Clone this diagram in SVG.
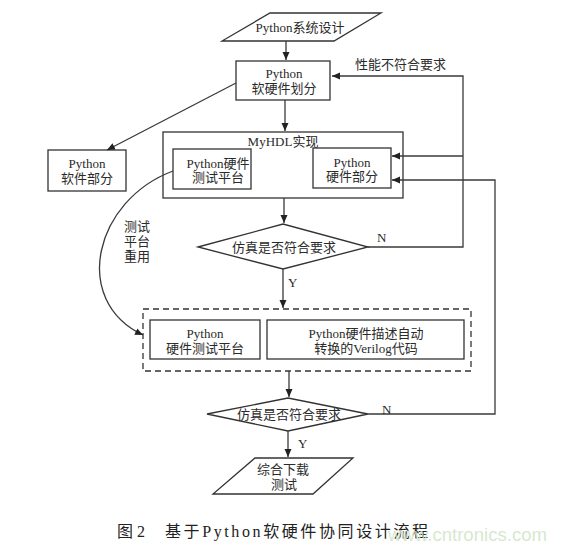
<svg xmlns="http://www.w3.org/2000/svg" width="566" height="553" viewBox="0 0 566 553">
<style>
.s{fill:#fff;stroke:#333;stroke-width:1.3}
.c{fill:none;stroke:#3a3a3a;stroke-width:1.3}
.t{font-family:"Liberation Serif","Noto Sans CJK SC",serif;font-size:13px;fill:#2a2a2a;text-anchor:middle;dominant-baseline:central}
.l{font-family:"Liberation Serif","Noto Sans CJK SC",serif;font-size:13px;fill:#2a2a2a;dominant-baseline:central}
</style>
<defs>
<marker id="a" markerUnits="userSpaceOnUse" markerWidth="10" markerHeight="8" refX="8" refY="4" orient="auto">
<path d="M0,0.5 L8,4 L0,7.5 Z" fill="#222"/>
</marker>
</defs>
<rect width="566" height="553" fill="#fff"/>
<g id="start">
<polygon class="s" points="270,13 381,13 334,41 222,41"/>
<text class="t" x="300" y="27">Python系统设计</text>
</g>
<g id="partition">
<rect class="s" x="236" y="61" width="94" height="39"/>
<text class="t" x="284" y="73">Python</text>
<text class="t" x="284" y="88">软硬件划分</text>
</g>
<g id="software">
<rect class="s" x="48" y="150" width="78" height="41"/>
<text class="t" x="87" y="163">Python</text>
<text class="t" x="87" y="178">软件部分</text>
</g>
<g id="myhdl">
<rect class="s" x="163" y="132" width="240" height="66"/>
<text class="t" x="283" y="141">MyHDL实现</text>
</g>
<g id="testbench">
<rect class="s" x="173" y="149" width="78" height="40"/>
<text class="t" x="218" y="163">Python硬件</text>
<text class="t" x="218" y="177">测试平台</text>
</g>
<g id="hardware">
<rect class="s" x="313" y="148" width="78" height="40"/>
<text class="t" x="352" y="162">Python</text>
<text class="t" x="352" y="176">硬件部分</text>
</g>
<g id="decision1">
<polygon class="s" points="198,247 283,224 368,247 283,269"/>
<text class="t" x="284" y="247">仿真是否符合要求</text>
</g>
<g id="verilog-group">
<rect x="143" y="309" width="328" height="62" fill="none" stroke="#333" stroke-width="1.3" stroke-dasharray="6,4"/>
</g>
<g id="hw-testbench">
<rect class="s" x="150" y="320" width="110" height="39"/>
<text class="t" x="205" y="333">Python</text>
<text class="t" x="205" y="348">硬件测试平台</text>
</g>
<g id="verilog">
<rect class="s" x="267" y="320" width="197" height="39"/>
<text class="t" x="366" y="333">Python硬件描述自动</text>
<text class="t" x="366" y="348">转换的Verilog代码</text>
</g>
<g id="decision2">
<polygon class="s" points="207,414 288,398 368,414 288,431"/>
<text class="t" x="289" y="414">仿真是否符合要求</text>
</g>
<g id="end">
<polygon class="s" points="255,458 353,458 313,494 213,494"/>
<text class="t" x="283" y="469">综合下载</text>
<text class="t" x="284" y="484">测试</text>
</g>
<g id="connectors">
<line class="c" x1="286" y1="41" x2="286" y2="60" marker-end="url(#a)"/>
<line class="c" x1="285" y1="100" x2="285" y2="131" marker-end="url(#a)"/>
<line class="c" x1="236" y1="83" x2="107" y2="150" marker-end="url(#a)"/>
<line class="c" x1="284" y1="198" x2="284" y2="223" marker-end="url(#a)"/>
<polyline class="c" points="368,247 463,247 463,76 332,76" marker-end="url(#a)"/>
<line class="c" x1="463" y1="156" x2="392" y2="156" marker-end="url(#a)"/>
<line class="c" x1="283" y1="269" x2="283" y2="308" marker-end="url(#a)"/>
<line class="c" x1="289" y1="371" x2="289" y2="397" marker-end="url(#a)"/>
<polyline class="c" points="368,414 495,414 495,180 392,180" marker-end="url(#a)"/>
<line class="c" x1="288" y1="431" x2="288" y2="457" marker-end="url(#a)"/>
<path class="c" d="M173,171 C95,200 70,300 143,335" marker-end="url(#a)"/>
<text class="l" x="355" y="64">性能不符合要求</text>
<text class="l" x="377" y="237">N</text>
<text class="l" x="288" y="282">Y</text>
<text class="l" x="382" y="409">N</text>
<text class="l" x="298" y="443">Y</text>
<text class="t" x="137" y="226">测试</text>
<text class="t" x="137" y="241">平台</text>
<text class="t" x="137" y="256">重用</text>
</g>
<g id="caption">
<text x="117" y="537" font-family="'Liberation Serif','Noto Sans CJK SC',serif" font-size="16" fill="#222">图 2</text>
<text x="165" y="537" font-family="'Liberation Serif','Noto Sans CJK SC',serif" font-size="16" fill="#222" textLength="263" lengthAdjust="spacing">基于Python软硬件协同设计流程</text>
<text x="388" y="541" font-family="'Liberation Sans',Arial,sans-serif" font-size="19" fill="#cfe3c6" fill-opacity="0.85" textLength="159" lengthAdjust="spacingAndGlyphs">www.cntronics.com</text>
</g>
</svg>
